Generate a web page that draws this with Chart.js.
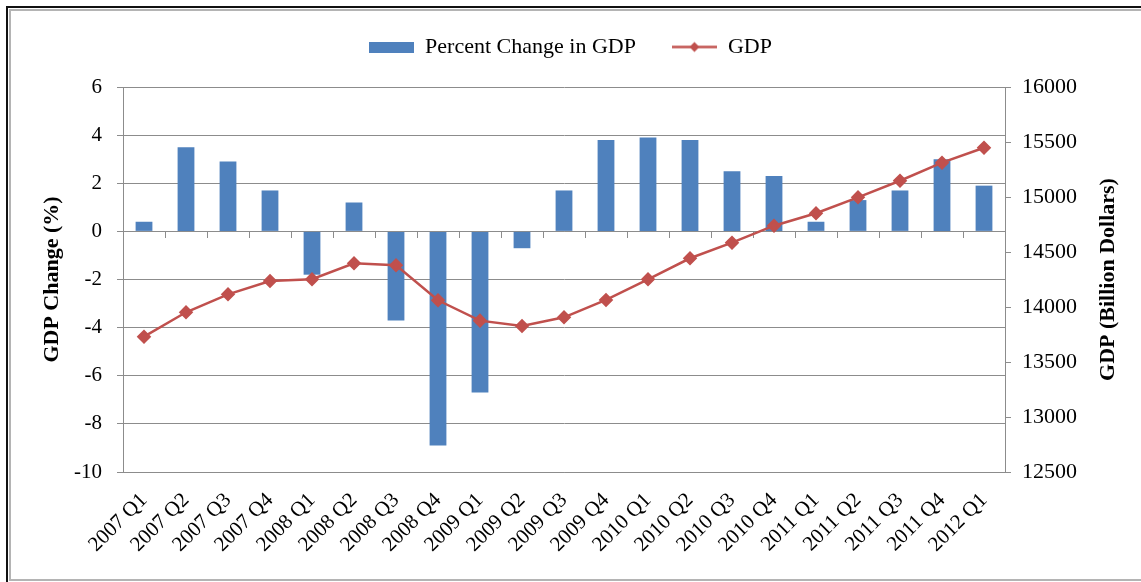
<!DOCTYPE html>
<html>
<head>
<meta charset="utf-8">
<script src="https://cdn.jsdelivr.net/npm/chart.js@4/dist/chart.umd.min.js"></script>
<style>
  body { margin: 0; background: #fff; }
  #wrap { position: relative; width: 1141px; height: 582px; overflow: hidden; }
  #outer { position: absolute; left: 6px; top: 6px; right: -4px; bottom: -4px; border-top: 2px solid #111; border-left: 2px solid #111; }
  #inner { position: absolute; left: 9px; top: 9px; right: -4px; bottom: 1px; border-top: 2px solid #b4b4b4; border-left: 2px solid #b4b4b4; border-bottom: 2px solid #b4b4b4; }
  #chart { position: absolute; left: 0; top: 0; }
</style>
</head>
<body>
<div id="wrap">
  <div id="outer"></div>
  <div id="inner"></div>
  <canvas id="chart" width="1141" height="582"></canvas>
</div>
<script>
var quarters = [
  '2007 Q1', '2007 Q2', '2007 Q3', '2007 Q4',
  '2008 Q1', '2008 Q2', '2008 Q3', '2008 Q4',
  '2009 Q1', '2009 Q2', '2009 Q3', '2009 Q4',
  '2010 Q1', '2010 Q2', '2010 Q3', '2010 Q4',
  '2011 Q1', '2011 Q2', '2011 Q3', '2011 Q4',
  '2012 Q1'
];
var pctChange = [0.4, 3.5, 2.9, 1.7, -1.8, 1.2, -3.7, -8.9, -6.7, -0.7, 1.7, 3.8, 3.9, 3.8, 2.5, 2.3, 0.4, 1.3, 1.7, 3.0, 1.9];
var gdp = [13730, 13952, 14115, 14236, 14252, 14397, 14379, 14061, 13876, 13827, 13906, 14064, 14252, 14443, 14585, 14739, 14852, 14997, 15148, 15312, 15448];
var leftTicks = [-10, -8, -6, -4, -2, 0, 2, 4, 6];
var rightTicks = [12500, 13000, 13500, 14000, 14500, 15000, 15500, 16000];

var blue = '#4F81BD';
var red = '#C0504D';
var gridGray = '#8c8c8c';
var serif = "'Liberation Serif', 'Times New Roman', serif";

Chart.defaults.font.family = serif;
Chart.defaults.color = '#000';

// legend icons drawn like excel's
var barIcon = document.createElement('canvas');
barIcon.width = 45; barIcon.height = 11;
var bctx = barIcon.getContext('2d');
bctx.fillStyle = blue;
bctx.fillRect(0, 0, 45, 11);

var lineIcon = document.createElement('canvas');
lineIcon.width = 45; lineIcon.height = 13;
var lctx = lineIcon.getContext('2d');
lctx.strokeStyle = red;
lctx.lineWidth = 2.5;
lctx.beginPath(); lctx.moveTo(0, 6.5); lctx.lineTo(45, 6.5); lctx.stroke();
lctx.fillStyle = red;
lctx.beginPath(); lctx.moveTo(22.5, 1.5); lctx.lineTo(27.5, 6.5); lctx.lineTo(22.5, 11.5); lctx.lineTo(17.5, 6.5); lctx.closePath(); lctx.fill();

// right axis title reads bottom-to-top in the original
var rightTitle = {
  id: 'rightTitle',
  afterDraw: function (chart) {
    var ctx = chart.ctx;
    var area = chart.chartArea;
    var sc = chart.scales.y1;
    ctx.save();
    ctx.translate(sc.right - 33, (area.top + area.bottom) / 2);
    ctx.rotate(-Math.PI / 2);
    ctx.font = 'bold 22px ' + serif;
    ctx.fillStyle = '#000';
    ctx.textAlign = 'center';
    ctx.textBaseline = 'middle';
    ctx.fillText('GDP (Billion Dollars)', 0, 0);
    ctx.restore();
  }
};

var myChart = new Chart(document.getElementById('chart'), {
  data: {
    labels: quarters,
    datasets: [
      {
        type: 'line',
        label: 'GDP',
        data: gdp,
        yAxisID: 'y1',
        borderColor: red,
        backgroundColor: red,
        borderWidth: 2.5,
        pointStyle: 'rectRot',
        pointRadius: 5.5,
        pointBackgroundColor: red,
        pointBorderColor: red,
        tension: 0,
        order: 0
      },
      {
        type: 'bar',
        label: 'Percent Change in GDP',
        data: pctChange,
        yAxisID: 'y',
        backgroundColor: blue,
        barPercentage: 0.4,
        categoryPercentage: 1.0,
        order: 1
      }
    ]
  },
  options: {
    responsive: false,
    animation: false,
    layout: { padding: 0 },
    plugins: {
      legend: {
        position: 'top',
        weight: 3000,
        reverse: true,
        labels: {
          usePointStyle: true,
          pointStyleWidth: 45,
          padding: 36,
          font: { size: 22 },
          generateLabels: function (chart) {
            var items = Chart.defaults.plugins.legend.labels.generateLabels(chart);
            items.forEach(function (it) {
              it.pointStyle = it.datasetIndex === 1 ? barIcon : lineIcon;
            });
            return items;
          }
        }
      },
      title: {
        display: true,
        text: '',
        padding: { top: 0, bottom: 18 },
        font: { size: 1, lineHeight: 1 }
      },
      tooltip: { enabled: false }
    },
    scales: {
      x: {
        type: 'category',
        position: 'bottom',
        offset: true,
        grid: { display: true, drawOnChartArea: false, drawTicks: false, offset: true, color: gridGray },
        border: { color: gridGray },
        ticks: { maxRotation: 45, minRotation: 45, autoSkip: false, padding: 16, font: { size: 21 } },
        afterFit: function (scale) { scale.height = 110; }
      },
      x0: {
        type: 'category',
        position: { y: 0 },
        offset: true,
        grid: { drawOnChartArea: false, drawTicks: true, tickLength: 6, offset: true, color: gridGray },
        border: { color: gridGray },
        ticks: { display: false }
      },
      y: {
        type: 'linear',
        position: 'left',
        min: -10,
        max: 6,
        afterBuildTicks: function (scale) {
          scale.ticks = leftTicks.map(function (v) { return { value: v }; });
        },
        grid: { color: gridGray, tickLength: 6 },
        border: { color: gridGray },
        ticks: { padding: 15, font: { size: 21 } },
        title: {
          display: true,
          text: 'GDP Change (%)',
          font: { size: 22, weight: 'bold' },
          padding: { top: 39, bottom: 0 }
        },
        afterFit: function (scale) { scale.width = 123; }
      },
      y1: {
        type: 'linear',
        position: 'right',
        min: 12500,
        max: 16000,
        afterBuildTicks: function (scale) {
          scale.ticks = rightTicks.map(function (v) { return { value: v }; });
        },
        grid: { drawOnChartArea: false, color: gridGray, tickLength: 6 },
        border: { color: gridGray },
        ticks: {
          padding: 11,
          font: { size: 22 },
          callback: function (value) { return String(value); }
        },
        afterFit: function (scale) { scale.width = 136; }
      }
    }
  },
  plugins: [rightTitle]
});
</script>
</body>
</html>
